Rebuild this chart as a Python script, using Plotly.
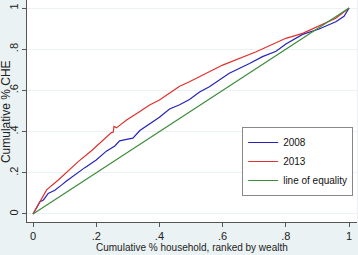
import plotly.graph_objects as go

# 2008 concentration curve
blue_x = [0, 0.022, 0.033, 0.048, 0.069, 0.08, 0.09, 0.106, 0.132, 0.138, 0.164, 0.2, 0.232,
          0.259, 0.274, 0.296, 0.316, 0.338, 0.369, 0.4, 0.432, 0.464, 0.495, 0.527, 0.558,
          0.621, 0.685, 0.726, 0.769, 0.8, 0.853, 0.905, 0.958, 0.984, 1.0]
blue_y = [0, 0.06, 0.068, 0.10, 0.115, 0.13, 0.14, 0.16, 0.19, 0.197, 0.225, 0.262, 0.305,
          0.33, 0.355, 0.362, 0.368, 0.405, 0.438, 0.47, 0.51, 0.53, 0.556, 0.592, 0.618,
          0.683, 0.731, 0.764, 0.79, 0.825, 0.872, 0.898, 0.933, 0.96, 1.0]

# 2013 concentration curve
red_x = [0, 0.027, 0.043, 0.08, 0.111, 0.143, 0.185, 0.217, 0.248, 0.254, 0.256, 0.264, 0.296,
         0.332, 0.369, 0.40, 0.432, 0.464, 0.495, 0.527, 0.60, 0.706, 0.779, 0.80, 0.853,
         0.905, 0.958, 1.0]
red_y = [0, 0.076, 0.117, 0.165, 0.21, 0.254, 0.307, 0.351, 0.395, 0.398, 0.425, 0.418, 0.456,
         0.492, 0.529, 0.553, 0.586, 0.62, 0.642, 0.667, 0.723, 0.788, 0.837, 0.853, 0.877,
         0.913, 0.95, 1.0]

eq_x = [0, 1]
eq_y = [0, 1]

tick_vals = [0, 0.2, 0.4, 0.6, 0.8, 1]
tick_text = ["0", ".2", ".4", ".6", ".8", "1"]

x_title = "Cumulative % household, ranked by wealth"
y_title = "Cumulative % CHE"

font = "Liberation Sans, Arial, sans-serif"

fig = go.Figure()
fig.add_trace(go.Scatter(x=blue_x, y=blue_y, mode="lines", name="2008",
                         line=dict(color="#2424b8", width=1.2)))
fig.add_trace(go.Scatter(x=red_x, y=red_y, mode="lines", name="2013",
                         line=dict(color="#e0302c", width=1.2)))
fig.add_trace(go.Scatter(x=eq_x, y=eq_y, mode="lines", name="line of equality",
                         line=dict(color="#3c8c3c", width=1.2)))

fig.update_layout(
    width=358, height=255,
    margin=dict(l=27, r=1, t=0, b=33),
    paper_bgcolor="#eaf2f3",
    plot_bgcolor="white",
    font=dict(family=font, size=11, color="#222"),
    showlegend=True,
    legend=dict(x=0.652, y=0.428, xanchor="left", yanchor="top",
                bgcolor="white", bordercolor="#888", borderwidth=1,
                font=dict(family=font, size=10, color="#111"), tracegroupgap=0,
                itemwidth=30),
    xaxis=dict(range=[-0.019, 1.025], tickvals=tick_vals, ticktext=tick_text,
               automargin=False,
               showgrid=False, zeroline=False, showline=True, linecolor="#555",
               ticks="outside", ticklen=4, tickcolor="#555",
               tickfont=dict(family=font, size=11)),
    yaxis=dict(range=[-0.039, 1.039], tickvals=tick_vals, ticktext=tick_text,
               automargin=False,
               tickangle=-90, tickfont=dict(family=font, size=11),
               showgrid=True, gridcolor="#eaf2f3", gridwidth=1, zeroline=False,
               showline=True, linecolor="#555",
               ticks="outside", ticklen=4, tickcolor="#555"),
    annotations=[
        dict(text=x_title, xref="paper", yref="paper", x=0.5, y=0,
             xanchor="center", yanchor="middle", yshift=-25, showarrow=False,
             font=dict(family=font, size=10, color="#222")),
        dict(text=y_title, xref="paper", yref="paper", x=0, y=0.495,
             xanchor="center", yanchor="middle", xshift=-21, textangle=-90,
             showarrow=False, font=dict(family=font, size=12, color="#222")),
    ],
)

fig.write_html("out.html",
               config={"displayModeBar": False},
               post_script="document.body.style.margin='0';"
                           "document.body.style.overflow='hidden';")
